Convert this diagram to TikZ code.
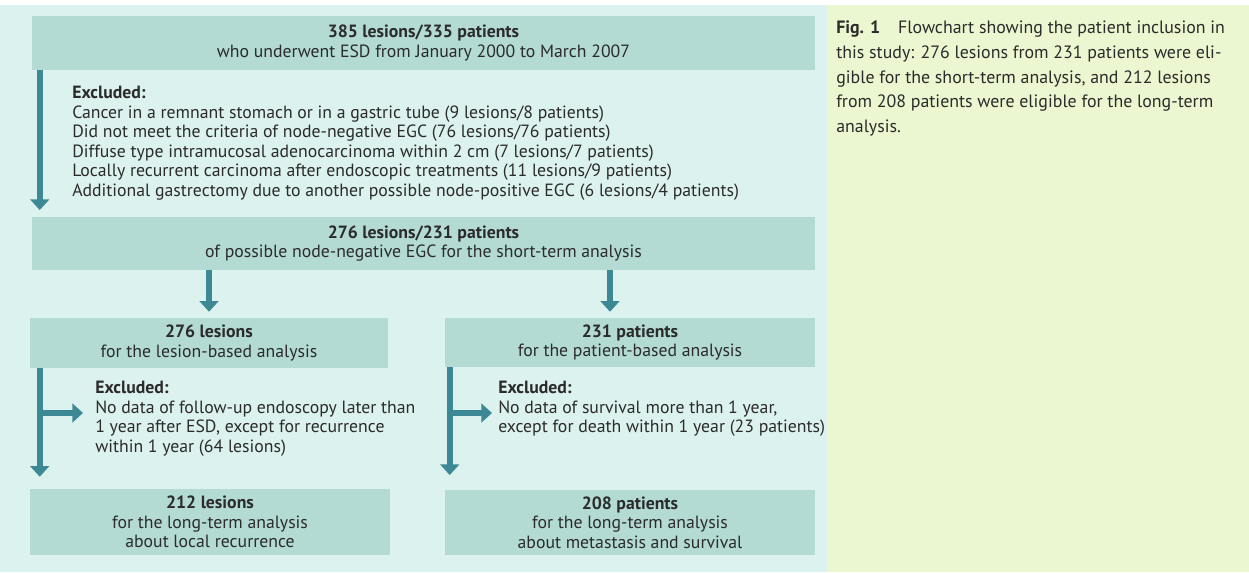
\documentclass[tikz,border=0pt]{standalone}
\usepackage{fontspec}
\setmainfont{PT Sans}
\usetikzlibrary{arrows.meta}
\definecolor{bgL}{HTML}{DCF2EE}
\definecolor{bgR}{HTML}{EBF7D0}
\definecolor{boxC}{HTML}{B3DBD4}
\definecolor{arrC}{HTML}{3C8895}
\definecolor{txtC}{HTML}{2B2B2B}
\tikzset{
  box/.style={fill=boxC, draw=none, align=center, inner sep=0pt, text=txtC,
    font=\fontsize{13.3}{14.6}\selectfont},
  excl/.style={anchor=north west, align=left, inner sep=0pt, text=txtC,
    font=\fontsize{13.3}{14.6}\selectfont},
  bigarrow/.style={draw=arrC, line width=4.5pt, -{Triangle[width=14pt,length=8pt]}},
}
\begin{document}
\begin{tikzpicture}[x=0.75pt,y=-0.75pt]
\useasboundingbox (0,0) rectangle (1249,572);
\fill[white] (0,0) rectangle (1249,572);
\fill[bgL] (0,5) rectangle (827,572);
\fill[bgR] (827,5) rectangle (1249,572);

\node[box, minimum width=783*0.75pt, minimum height=54*0.75pt] (b1) at (423.5,43)
  {\textbf{385 lesions/335 patients}\\who underwent ESD from January 2000 to March 2007};
\node[excl] (e1) at (72,86)
  {\textbf{Excluded:}\\
   Cancer in a remnant stomach or in a gastric tube (9 lesions/8 patients)\\
   Did not meet the criteria of node-negative EGC (76 lesions/76 patients)\\
   Diffuse type intramucosal adenocarcinoma within 2 cm (7 lesions/7 patients)\\
   Locally recurrent carcinoma after endoscopic treatments (11 lesions/9 patients)\\
   Additional gastrectomy due to another possible node-positive EGC (6 lesions/4 patients)};
\node[box, minimum width=783*0.75pt, minimum height=53*0.75pt] (b2) at (423.5,243.5)
  {\textbf{276 lesions/231 patients}\\of possible node-negative EGC for the short-term analysis};
\node[box, minimum width=358*0.75pt, minimum height=50*0.75pt] (b3) at (209,343)
  {\textbf{276 lesions}\\for the lesion-based analysis};
\node[box, minimum width=370*0.75pt, minimum height=49*0.75pt] (b4) at (630,342.5)
  {\textbf{231 patients}\\for the patient-based analysis};
\node[excl] (e2) at (95,381)
  {\textbf{Excluded:}\\
   No data of follow-up endoscopy later than\\
   1 year after ESD, except for recurrence\\
   within 1 year (64 lesions)};
\node[excl] (e3) at (498,381)
  {\textbf{Excluded:}\\
   No data of survival more than 1 year,\\
   except for death within 1 year (23 patients)};
\node[box, minimum width=360*0.75pt, minimum height=66*0.75pt] (b5) at (210,522)
  {\textbf{212 lesions}\\for the long-term analysis\\about local recurrence};
\node[box, minimum width=370*0.75pt, minimum height=65*0.75pt] (b6) at (630,522.5)
  {\textbf{208 patients}\\for the long-term analysis\\about metastasis and survival};

\node[anchor=north west, align=left, inner sep=0pt, text=txtC,
  font=\fontsize{13.4}{18.5}\selectfont] (cap) at (836,21)
  {\textbf{Fig. 1}\quad Flowchart showing the patient inclusion in\\
   this study: 276 lesions from 231 patients were eli-\\
   gible for the short-term analysis, and 212 lesions\\
   from 208 patients were eligible for the long-term\\
   analysis.};

% arrows
\draw[bigarrow, shorten >=5pt] ([xshift=6pt]b1.south west) -- ([xshift=6pt]b2.north west);
\draw[bigarrow, shorten >=4.5pt] (b2.south -| b3.north) -- (b3.north);
\draw[bigarrow, shorten >=4.5pt] ([xshift=-15pt]b2.south -| b4.north) -- ([xshift=-15pt]b4.north);
\draw[bigarrow, shorten >=9pt] ([xshift=7.5pt]b3.south west) -- ([xshift=7.5pt]b5.north west);
\draw[bigarrow, shorten >=11pt] ([xshift=3.75pt]b4.south west) -- ([xshift=3.75pt]b6.north west);
\coordinate (jL) at (40,413);
\coordinate (jR) at (450,413);
\draw[bigarrow, shorten >=9pt] (jL) -- (jL -| e2.west);
\draw[bigarrow, shorten >=4.5pt] (jR) -- (jR -| e3.west);
\end{tikzpicture}
\end{document}
